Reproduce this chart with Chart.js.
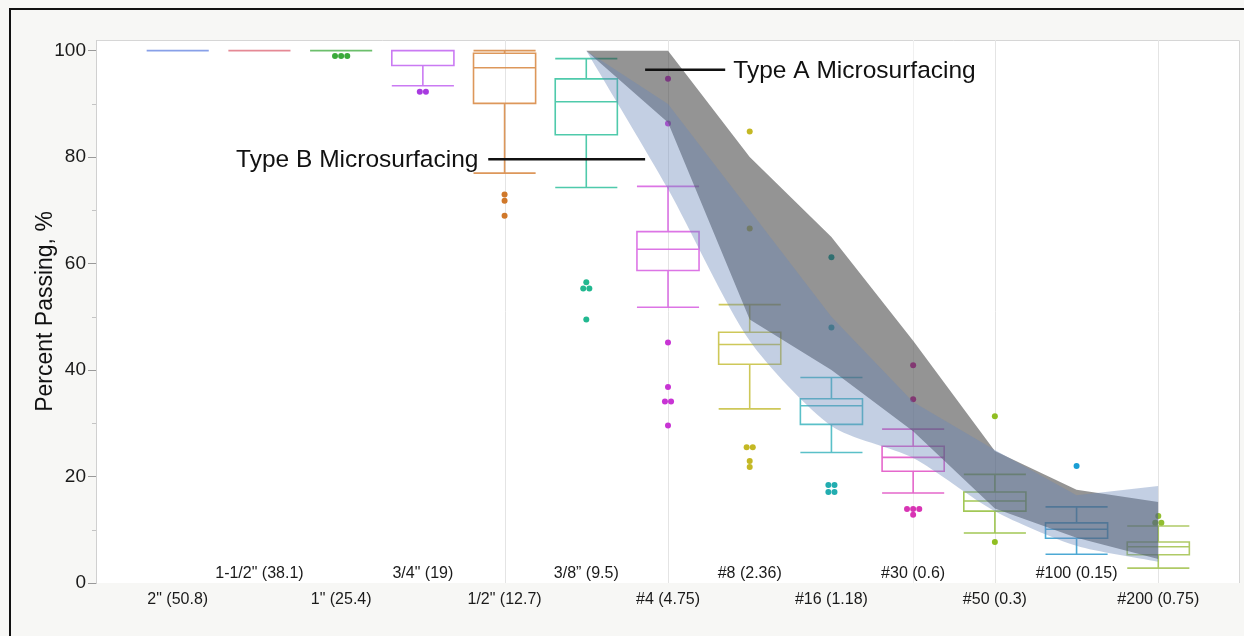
<!DOCTYPE html>
<html>
<head>
  <meta charset="utf-8">
  <title>Gradation - Percent Passing</title>
  <script src="https://cdn.jsdelivr.net/npm/chart.js"></script>
  <style>
    html, body { margin: 0; padding: 0; background: #f7f7f5; }
    #wrap { width: 1244px; height: 636px; }
  </style>
</head>
<body>
  <div id="wrap"><canvas id="gradChart" width="1244" height="636"></canvas></div>
  <script>
    // sieve sizes, in (mm)
    const sieves = ['2" (50.8)', '1-1/2" (38.1)', '1" (25.4)', '3/4" (19)', '1/2" (12.7)', '3/8\u201d (9.5)',
                    '#4 (4.75)', '#8 (2.36)', '#16 (1.18)', '#30 (0.6)', '#50 (0.3)', '#100 (0.15)', '#200 (0.75)'];

    // box plot stats per sieve
    const whiskerLow  = [100, 100, 100, 93.4, 77.0, 74.3, 51.8, 32.7, 24.5, 16.9,  9.4,  5.4,  2.8];
    const q1          = [100, 100, 100, 97.2, 90.1, 84.2, 58.7, 41.1, 29.8, 21.0, 13.5,  8.4,  5.3];
    const median      = [100, 100, 100, 100,  96.8, 90.4, 62.7, 44.8, 33.3, 23.6, 15.4, 10.1,  6.8];
    const q3          = [100, 100, 100, 100,  99.5, 94.7, 66.0, 47.1, 34.6, 25.7, 17.1, 11.3,  7.7];
    const whiskerHigh = [100, 100, 100, 100,  100,  98.5, 74.5, 52.3, 38.6, 28.9, 20.4, 14.3, 10.7];
    const outliers = [
      [], [], [99, 99, 99], [92.3, 92.3], [73, 71.8, 69], [56.5, 55.3, 55.3, 49.5],
      [94.7, 86.3, 45.2, 36.8, 34.1, 34.1, 29.6],
      [84.8, 66.6, 25.5, 25.5, 22.9, 21.8],
      [61.2, 48.0, 18.4, 18.4, 17.1, 17.1],
      [40.9, 34.5, 13.9, 13.9, 13.9, 12.8],
      [31.3, 7.7], [22.0], [12.6, 11.3, 11.3]
    ];

    const boxColors = ['#7b96e6', '#e27c8a', '#5cb85c', '#c46cf2', '#d98c48', '#3cc4a2', '#d866e2',
                       '#c9c247', '#48b9c2', '#e258c6', '#98c244', '#3aa0cf', '#a6c455'];
    const dotColors = ['#5577dd', '#dd5566', '#3aaa3a', '#a83ae0', '#d0782a', '#22b890', '#c834d4',
                       '#c4b824', '#22adb0', '#d834b4', '#90be22', '#1a9ed4', '#92be30'];

    // specification bands, from 3/8" down to #200
    const bandSieves = sieves.slice(5);
    const typeAUpper = [100, 100,  80, 65, 45.5, 24.8, 17.5, 15.2];
    const typeALower = [100, 86.5, 49.5, 40, 28.5, 14.0,  8.5,  4.5];
    const typeBUpper = [100, 90,   70, 50, 34.0, 25.0, 16.5, 18.2];
    const typeBLower = [100, 74,   45.5, 29.5, 23.5, 13.5, 7.0, 4.0];

    const yTicks = [0, 10, 20, 30, 40, 50, 60, 70, 80, 90, 100];
    const gridAt = [5, 7, 10, 11, 13];
    const BOX_HALF = 0.38;
    const FONT = "'Liberation Sans', Arial, sans-serif";

    const xOf = label => sieves.indexOf(label) + 1;
    const band = vals => bandSieves.map((s, i) => ({ x: xOf(s), y: vals[i] }));

    // outlier points, equal values are spread side by side
    const outlierPts = [];
    const outlierCols = [];
    outliers.forEach((vals, i) => {
      const groups = {};
      vals.forEach(v => { groups[v] = (groups[v] || 0) + 1; });
      const seen = {};
      vals.forEach(v => {
        const n = groups[v];
        const k = seen[v] = (seen[v] === undefined ? 0 : seen[v] + 1);
        outlierPts.push({ x: i + 1 + (k - (n - 1) / 2) * 0.075, y: v });
        outlierCols.push(dotColors[i]);
      });
    });

    const frame = {
      id: 'frame',
      beforeDraw(chart) {
        const { ctx, chartArea: a, width, height } = chart;
        ctx.save();
        ctx.fillStyle = '#f7f7f5';
        ctx.fillRect(0, 0, width, height);
        ctx.strokeStyle = '#111';
        ctx.lineWidth = 2;
        ctx.beginPath();
        ctx.moveTo(10, height); ctx.lineTo(10, 9); ctx.lineTo(width, 9);
        ctx.stroke();
        ctx.fillStyle = '#fff';
        ctx.fillRect(a.left, a.top, a.right - a.left, a.bottom - a.top);
        ctx.strokeStyle = '#d6d6d6';
        ctx.lineWidth = 1;
        ctx.beginPath();
        ctx.moveTo(a.left + 0.5, a.bottom); ctx.lineTo(a.left + 0.5, a.top + 0.5);
        ctx.lineTo(a.right - 0.5, a.top + 0.5); ctx.lineTo(a.right - 0.5, a.bottom);
        ctx.stroke();
        ctx.restore();
      },
      beforeDatasetsDraw(chart) {
        const { ctx, chartArea: a, scales: { x, y } } = chart;
        ctx.save();
        // vertical grid
        gridAt.forEach(g => {
          const px = Math.round(x.getPixelForValue(g)) + 0.5;
          ctx.strokeStyle = g === 10 ? '#f0f0f0' : '#e4e4e4';
          ctx.lineWidth = 1;
          ctx.beginPath(); ctx.moveTo(px, a.top); ctx.lineTo(px, a.bottom); ctx.stroke();
        });
        // boxes
        sieves.forEach((s, i) => {
          const cx = x.getPixelForValue(i + 1);
          const half = x.getPixelForValue(i + 1 + BOX_HALF) - cx;
          const yLo = y.getPixelForValue(whiskerLow[i]);
          const yQ1 = y.getPixelForValue(q1[i]);
          const yMd = y.getPixelForValue(median[i]);
          const yQ3 = y.getPixelForValue(q3[i]);
          const yHi = y.getPixelForValue(whiskerHigh[i]);
          ctx.strokeStyle = boxColors[i];
          ctx.globalAlpha = 0.9;
          ctx.lineWidth = 1.6;
          ctx.beginPath();
          ctx.moveTo(cx, yHi); ctx.lineTo(cx, yQ3);
          ctx.moveTo(cx, yQ1); ctx.lineTo(cx, yLo);
          ctx.moveTo(cx - half, yHi); ctx.lineTo(cx + half, yHi);
          ctx.moveTo(cx - half, yLo); ctx.lineTo(cx + half, yLo);
          ctx.moveTo(cx - half, yMd); ctx.lineTo(cx + half, yMd);
          ctx.rect(cx - half, yQ3, half * 2, yQ1 - yQ3);
          ctx.stroke();
        });
        ctx.restore();
      },
      afterDatasetsDraw(chart) {
        const { ctx, scales: { x, y } } = chart;
        ctx.save();
        ctx.strokeStyle = '#111';
        ctx.lineWidth = 2.5;
        ctx.beginPath();
        ctx.moveTo(x.getPixelForValue(6.72), y.getPixelForValue(96.4));
        ctx.lineTo(x.getPixelForValue(7.70), y.getPixelForValue(96.4));
        ctx.moveTo(x.getPixelForValue(4.80), y.getPixelForValue(79.6));
        ctx.lineTo(x.getPixelForValue(6.72), y.getPixelForValue(79.6));
        ctx.stroke();
        ctx.fillStyle = '#111';
        ctx.font = '24.5px ' + FONT;
        ctx.textBaseline = 'middle';
        ctx.textAlign = 'left';
        ctx.fillText('Type A Microsurfacing', x.getPixelForValue(7.80), y.getPixelForValue(96.4) + 1);
        ctx.textAlign = 'right';
        ctx.fillText('Type B Microsurfacing', x.getPixelForValue(4.68), y.getPixelForValue(79.6) + 1);
        ctx.restore();
      },
      afterDraw(chart) {
        const { ctx, chartArea: a, scales: { x, y } } = chart;
        ctx.save();
        // short minor ticks on the y axis
        ctx.strokeStyle = '#c4c4c4';
        ctx.lineWidth = 1;
        ctx.beginPath();
        yTicks.filter(v => v % 20 !== 0).forEach(v => {
          const py = Math.round(y.getPixelForValue(v)) + 0.5;
          ctx.moveTo(a.left - 4, py); ctx.lineTo(a.left, py);
        });
        ctx.stroke();
        ctx.fillStyle = '#1a1a1a';
        ctx.font = '16px ' + FONT;
        ctx.textAlign = 'center';
        ctx.textBaseline = 'middle';
        sieves.forEach((s, i) => {
          const py = i % 2 === 1 ? a.bottom - 9 : a.bottom + 17;
          ctx.fillText(s, x.getPixelForValue(i + 1), py);
        });
        ctx.restore();
      }
    };

    const lineDs = (label, data, extra) => Object.assign({
      type: 'line', label, data, borderWidth: 0, pointRadius: 0, tension: 0, fill: false
    }, extra);

    new Chart(document.getElementById('gradChart'), {
      type: 'scatter',
      data: {
        datasets: [
          lineDs('Type A lower', band(typeALower), { order: 1 }),
          lineDs('Type A upper', band(typeAUpper), { order: 1, fill: { target: 0 }, backgroundColor: 'rgba(60,60,60,0.55)' }),
          lineDs('Type B lower', band(typeBLower), { order: 0, tension: 0.25 }),
          lineDs('Type B upper', band(typeBUpper), { order: 0, fill: { target: 2 }, backgroundColor: 'rgba(105,135,185,0.4)' }),
          {
            type: 'scatter', label: 'Outliers', data: outlierPts, order: 2,
            pointRadius: 3, pointBorderWidth: 0,
            pointBackgroundColor: outlierCols, pointBorderColor: outlierCols
          }
        ]
      },
      options: {
        responsive: false,
        animation: false,
        layout: { padding: { left: 0, top: 40, right: 4, bottom: 53 } },
        plugins: { legend: { display: false }, tooltip: { enabled: false } },
        scales: {
          x: { type: 'linear', min: 0, max: 14, display: false },
          y: {
            min: 0, max: 102,
            afterFit(scale) { scale.width = 96; },
            afterBuildTicks(scale) {
              scale.ticks = yTicks.filter(v => v % 20 === 0).map(v => ({ value: v }));
            },
            border: { color: '#d0d0d0' },
            grid: { drawOnChartArea: false, tickLength: 8, tickColor: '#999' },
            ticks: {
              padding: 2, color: '#1a1a1a', font: { family: FONT, size: 19 }
            },
            title: {
              display: true, text: 'Percent Passing, %', color: '#111',
              font: { family: FONT, size: 23 }, padding: { top: 32, bottom: 0 }
            }
          }
        }
      },
      plugins: [frame]
    });
  </script>
</body>
</html>
